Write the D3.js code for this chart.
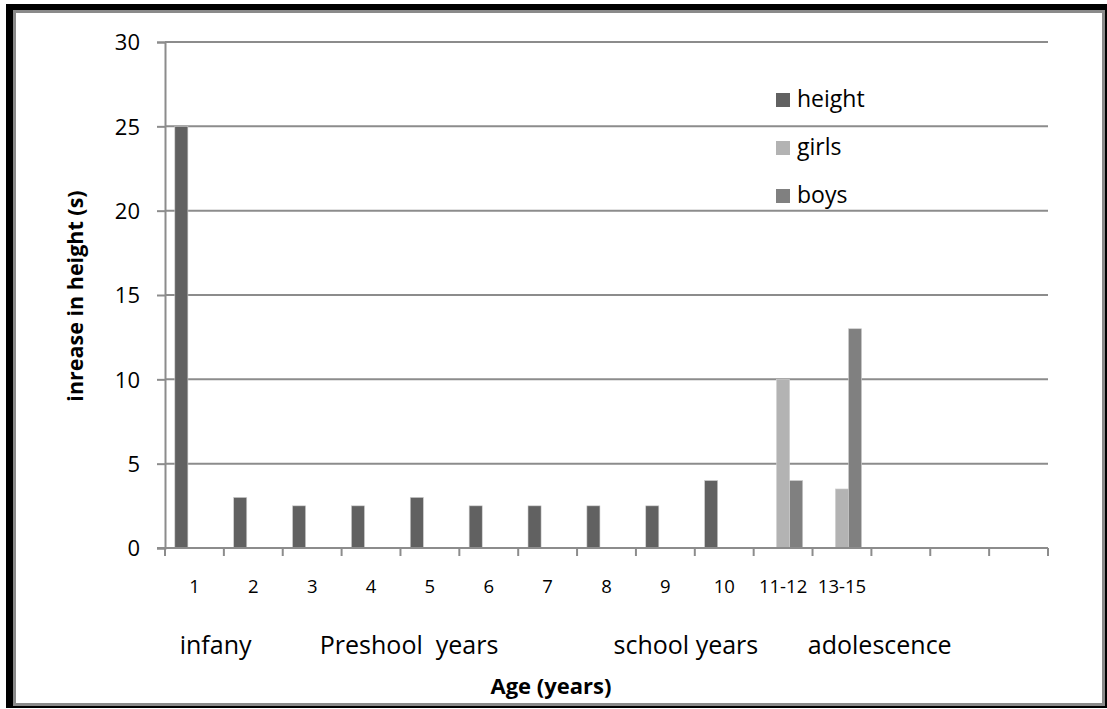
<!DOCTYPE html>
<html>
<head>
<meta charset="utf-8">
<script src="https://cdn.jsdelivr.net/npm/d3@7"></script>
<style>
  html, body { margin: 0; padding: 0; background: #fff; }
  svg { display: block; }
  text { font-family: "Open Sans", "Noto Sans", sans-serif; fill: #000; }
</style>
</head>
<body>
<svg id="chart" width="1107" height="709"></svg>
<script>
// Age groups along the x axis (the last three slots are empty)
const categories = ["1", "2", "3", "4", "5", "6", "7", "8", "9", "10", "11-12", "13-15", "", "", ""];
const seriesNames = ["height", "girls", "boys"];
const heightValues = [25, 3, 2.5, 2.5, 3, 2.5, 2.5, 2.5, 2.5, 4, null, null, null, null, null];
const girlsValues  = [null, null, null, null, null, null, null, null, null, null, 10, 3.5, null, null, null];
const boysValues   = [null, null, null, null, null, null, null, null, null, null, 4, 13, null, null, null];
const yTicks = [0, 5, 10, 15, 20, 25, 30];
const stageLabels = ["infany", "Preshool  years", "school years", "adolescence"];
const colors = { height: "#616161", girls: "#b3b3b3", boys: "#808080" };

const seriesData = { height: heightValues, girls: girlsValues, boys: boysValues };
// Where each stage label starts, in category widths from the y axis
const stageStart = [0.25, 2.63, 7.62, 10.92];

const svg = d3.select("#chart");

// Outer frame: black shadow on the top/left, grey border inside
svg.append("rect").attr("x", 6).attr("y", 4).attr("width", 1101).attr("height", 704).attr("fill", "#000");
svg.append("rect").attr("x", 14.5).attr("y", 11.5).attr("width", 1089).attr("height", 693)
  .attr("fill", "#fff").attr("stroke", "#8a8a8a").attr("stroke-width", 3);

const plot = { left: 165, right: 1048, top: 42, bottom: 548 };

const x = d3.scaleBand().domain(d3.range(categories.length)).range([plot.left, plot.right]).padding(0);
const xSub = d3.scaleBand().domain(seriesNames).range([0, x.bandwidth()]).paddingInner(0).paddingOuter(0.75);
const y = d3.scaleLinear().domain([0, 30]).range([plot.bottom, plot.top]);

const gridColor = "#8c8c8c";

// Horizontal gridlines
svg.append("g").selectAll("line").data(yTicks.filter(d => d > 0)).join("line")
  .attr("x1", plot.left).attr("x2", plot.right)
  .attr("y1", d => y(d)).attr("y2", d => y(d))
  .attr("stroke", gridColor).attr("stroke-width", 2);

// Y axis
const yAxis = svg.append("g").attr("transform", `translate(${plot.left},0)`)
  .call(d3.axisLeft(y).tickValues(yTicks).tickSize(8).tickPadding(17).tickFormat(d3.format("d")));
yAxis.select(".domain").attr("stroke", gridColor).attr("stroke-width", 2);
yAxis.selectAll(".tick line").attr("stroke", gridColor).attr("stroke-width", 2);
yAxis.selectAll(".tick text").attr("font-size", 22).attr("font-family", "Open Sans, sans-serif")
  .attr("fill", "#000").attr("dy", "0.35em");

// Bars
const bars = svg.append("g");
seriesNames.forEach(name => {
  const vals = seriesData[name];
  bars.append("g").selectAll("rect")
    .data(vals.map((v, i) => ({ i, v })).filter(d => d.v != null))
    .join("rect")
    .attr("x", d => x(d.i) + xSub(name))
    .attr("width", xSub.bandwidth())
    .attr("y", d => y(d.v))
    .attr("height", d => y(0) - y(d.v))
    .attr("fill", colors[name])
    .attr("stroke", "#cfcfcf").attr("stroke-width", 0.6);
});

// X axis with ticks on category boundaries
const xg = svg.append("g");
xg.append("line").attr("x1", plot.left - 8).attr("x2", plot.right)
  .attr("y1", plot.bottom).attr("y2", plot.bottom)
  .attr("stroke", gridColor).attr("stroke-width", 2);
const boundaries = d3.range(categories.length + 1).map(i => i < categories.length ? x(i) : plot.right);
xg.selectAll("line.tick").data(boundaries).join("line").attr("class", "tick")
  .attr("x1", d => d).attr("x2", d => d)
  .attr("y1", plot.bottom).attr("y2", plot.bottom + 8)
  .attr("stroke", gridColor).attr("stroke-width", 2);
xg.selectAll("text").data(categories.map((c, i) => ({ c, i }))).join("text")
  .attr("x", d => x(d.i) + x.bandwidth() / 2)
  .attr("y", 593)
  .attr("text-anchor", "middle")
  .attr("font-size", 18.5)
  .text(d => d.c);

// Life stage labels under the category axis
svg.append("g").selectAll("text").data(stageLabels).join("text")
  .attr("x", (d, i) => plot.left + stageStart[i] * x.bandwidth())
  .attr("y", 654)
  .attr("font-size", 25)
  .style("white-space", "pre")
  .text(d => d);

// Axis titles
svg.append("text").attr("x", 551).attr("y", 694).attr("text-anchor", "middle")
  .attr("font-size", 22).attr("font-weight", "bold").text("Age (years)");
svg.append("text").attr("transform", "translate(83,296) rotate(-90)").attr("text-anchor", "middle")
  .attr("font-size", 21.5).attr("font-weight", "bold").text("inrease in height (s)");

// Legend
const legend = svg.append("g").attr("transform", "translate(776,107)");
seriesNames.forEach((name, i) => {
  const g = legend.append("g").attr("transform", `translate(0,${i * 48})`);
  g.append("rect").attr("x", 0).attr("y", -14).attr("width", 14).attr("height", 14).attr("fill", colors[name]);
  g.append("text").attr("x", 21).attr("y", 0).attr("font-size", 23).text(name);
});
</script>
</body>
</html>
